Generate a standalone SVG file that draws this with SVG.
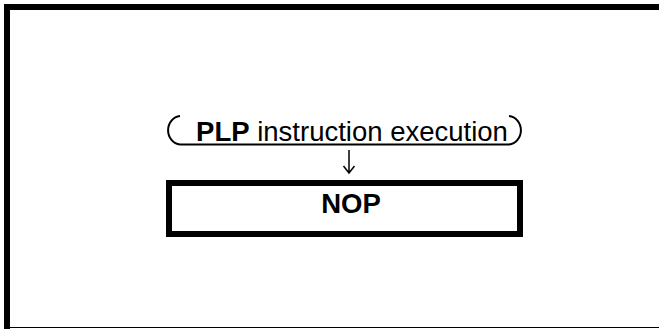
<svg xmlns="http://www.w3.org/2000/svg" width="659" height="329" viewBox="0 0 659 329">
<style>
.t{font-family:"Liberation Sans",Arial,sans-serif;fill:#000}
.b{font-weight:bold}
.frame{fill:none;stroke:#000}
</style>
<rect width="659" height="329" fill="#fff"/>
<g id="frame">
<path class="frame" d="M7,329 V7 H659" stroke-width="6"/>
<path class="frame" d="M4,327.5 H659" stroke-width="1.2" stroke="#333"/>
</g>
<g id="node-plp">
<path d="M180,116 A13,14.3 0 0 0 180,144.5 H509 A13,14.3 0 0 0 509,116" fill="none" stroke="#000" stroke-width="2"/>
<text class="t" x="352" y="141" font-size="27.5" text-anchor="middle"><tspan class="b">PLP</tspan> instruction execution</text>
</g>
<g id="connectors">
<path d="M349,150 V173 M343.5,166 L349,173 L354.5,166" fill="none" stroke="#000" stroke-width="1.5"/>
</g>
<g id="node-nop">
<rect x="169" y="183" width="351" height="51" fill="none" stroke="#000" stroke-width="6"/>
<text class="t b" x="351" y="213" font-size="27.5" text-anchor="middle">NOP</text>
</g>
</svg>
